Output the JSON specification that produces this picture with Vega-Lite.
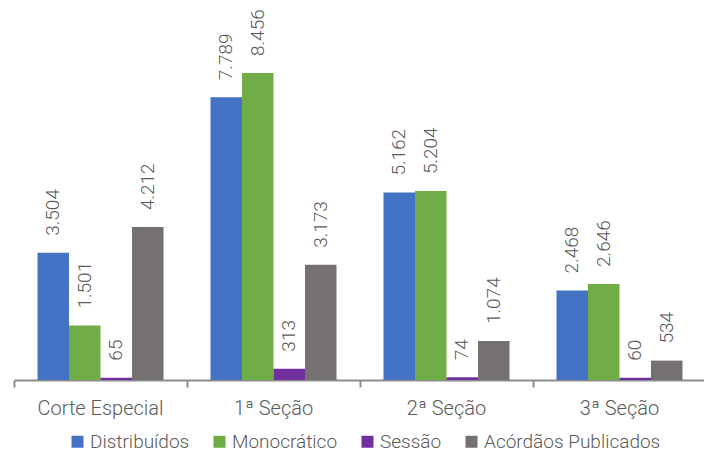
{
  "$schema": "https://vega.github.io/schema/vega-lite/v6.json",
  "width": 692,
  "height": 380,
  "autosize": {"type": "none"},
  "padding": {"left": 14, "top": 0, "right": 0, "bottom": 73},
  "background": "white",
  "config": {
    "view": {"stroke": null},
    "locale": {"number": {"decimal": ",", "thousands": ".", "grouping": [3], "currency": ["R$", ""]}},
    "font": "Roboto"
  },
  "data": {
    "values": [
      {"grupo": "Corte Especial", "serie": "Distribuídos", "valor": 3504},
      {"grupo": "Corte Especial", "serie": "Monocrático", "valor": 1501},
      {"grupo": "Corte Especial", "serie": "Sessão", "valor": 65},
      {"grupo": "Corte Especial", "serie": "Acórdãos Publicados", "valor": 4212},
      {"grupo": "1ª Seção", "serie": "Distribuídos", "valor": 7789},
      {"grupo": "1ª Seção", "serie": "Monocrático", "valor": 8456},
      {"grupo": "1ª Seção", "serie": "Sessão", "valor": 313},
      {"grupo": "1ª Seção", "serie": "Acórdãos Publicados", "valor": 3173},
      {"grupo": "2ª Seção", "serie": "Distribuídos", "valor": 5162},
      {"grupo": "2ª Seção", "serie": "Monocrático", "valor": 5204},
      {"grupo": "2ª Seção", "serie": "Sessão", "valor": 74},
      {"grupo": "2ª Seção", "serie": "Acórdãos Publicados", "valor": 1074},
      {"grupo": "3ª Seção", "serie": "Distribuídos", "valor": 2468},
      {"grupo": "3ª Seção", "serie": "Monocrático", "valor": 2646},
      {"grupo": "3ª Seção", "serie": "Sessão", "valor": 60},
      {"grupo": "3ª Seção", "serie": "Acórdãos Publicados", "valor": 534}
    ]
  },
  "encoding": {
    "x": {
      "field": "grupo", "type": "nominal", "sort": null,
      "scale": {"paddingInner": 0, "paddingOuter": 0},
      "axis": {
        "title": null, "labelAngle": 0, "bandPosition": 0,
        "domainColor": "#8c8c8c", "domainWidth": 2,
        "tickColor": "#8c8c8c", "tickWidth": 2, "tickSize": 7,
        "labelFont": "Roboto", "labelFontWeight": 300, "labelFontSize": 20,
        "labelColor": "#595959", "labelPadding": 11
      }
    },
    "xOffset": {
      "field": "serie", "type": "nominal", "sort": ["Distribuídos", "Monocrático", "Sessão", "Acórdãos Publicados"],
      "scale": {"paddingInner": 0, "paddingOuter": 0.746}
    },
    "y": {
      "field": "valor", "type": "quantitative",
      "scale": {"domain": [0, 10466], "nice": false, "zero": true},
      "axis": null
    }
  },
  "layer": [
    {
      "mark": {"type": "bar"},
      "encoding": {
        "color": {
          "field": "serie", "type": "nominal",
          "sort": ["Distribuídos", "Monocrático", "Sessão", "Acórdãos Publicados"],
          "scale": {"domain": ["Distribuídos", "Monocrático", "Sessão", "Acórdãos Publicados"], "range": ["#4472C4", "#70AD47", "#7030A0", "#767171"]},
          "legend": {
            "title": null, "orient": "none", "direction": "horizontal",
            "legendX": 54, "legendY": 432,
            "symbolType": "square", "symbolSize": 144, "symbolStrokeWidth": 0,
            "labelFont": "Roboto", "labelFontWeight": 300, "labelFontSize": 19,
            "labelColor": "#595959", "columnPadding": 20, "labelOffset": 3, "labelLimit": 400
          }
        }
      }
    },
    {
      "mark": {"type": "text", "angle": -90, "align": "left", "baseline": "middle", "dx": 17, "font": "Roboto", "fontWeight": 300, "fontSize": 19, "color": "#595959"},
      "encoding": {
        "text": {"field": "valor", "type": "quantitative", "format": ",d"}
      }
    }
  ]
}
